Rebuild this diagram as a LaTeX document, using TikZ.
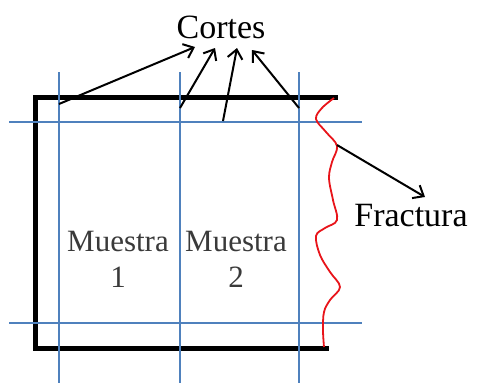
\documentclass[tikz,border=0pt]{standalone}
\usepackage{fontspec}
\setmainfont{Liberation Serif}
\usetikzlibrary{arrows.meta}
\definecolor{cutblue}{HTML}{4F81BD}
\definecolor{fracred}{HTML}{E8141A}
\definecolor{labgray}{HTML}{3A3A3A}
\begin{document}
\begin{tikzpicture}[x=1pt,y=-1pt,
  frame/.style={line width=5pt,line cap=rect},
  cut/.style={cutblue,line width=1.5pt},
  ptr/.style={line width=2pt,-{Straight Barb[length=9pt,width=15pt,line width=2pt]}},
  lab/.style={font=\fontsize{34}{36}\selectfont,inner sep=0pt},
  mlab/.style={font=\fontsize{31}{36}\selectfont,inner sep=0pt,align=center,text=labgray}]
\useasboundingbox (0,0) rectangle (488,383);
% frame
\draw[frame] (335,97) -- (35,97) -- (35,348) -- (326,348);
% cut lines
\draw[cut] (59,72) -- (59,383);
\draw[cut] (180,72) -- (180,383);
\draw[cut] (299,72) -- (299,383);
\draw[cut] (9,122) -- (362,122);
\draw[cut] (9,323) -- (362,323);
% fracture
\draw[fracred,line width=1.8pt] plot[smooth,tension=0.6] coordinates {(334,98) (322,108) (316,119) (326,132) (337,146) (332,162) (329,178) (333,200) (337,220) (325,228) (316,236) (320,255) (330,272) (340,287) (330,300) (324,312) (323,330) (324,347)};
% labels
\node[lab] (cortes) at (221,27) {Cortes};
\node[lab] (fractura) at (411,216) {Fractura};
\node[mlab] (m1) at (118,259) {Muestra\\1};
\node[mlab] (m2) at (236,259) {Muestra\\2};
% pointer starts
\coordinate (c1) at (59,104);
\coordinate (c2) at (180,108);
\coordinate (c3) at (223,121);
\coordinate (c4) at (299,108);
\coordinate (f1) at (337,145);
\coordinate (t1) at (195,47);
\coordinate (t2) at (215,48);
\coordinate (t3) at (237,48);
\coordinate (t4) at (252,50);
\coordinate (tf) at (425,197);
\draw[ptr] (c1) -- (t1);
\draw[ptr] (c2) -- (t2);
\draw[ptr] (c3) -- (t3);
\draw[ptr] (c4) -- (t4);
\draw[ptr] (f1) -- (tf);
\end{tikzpicture}
\end{document}
